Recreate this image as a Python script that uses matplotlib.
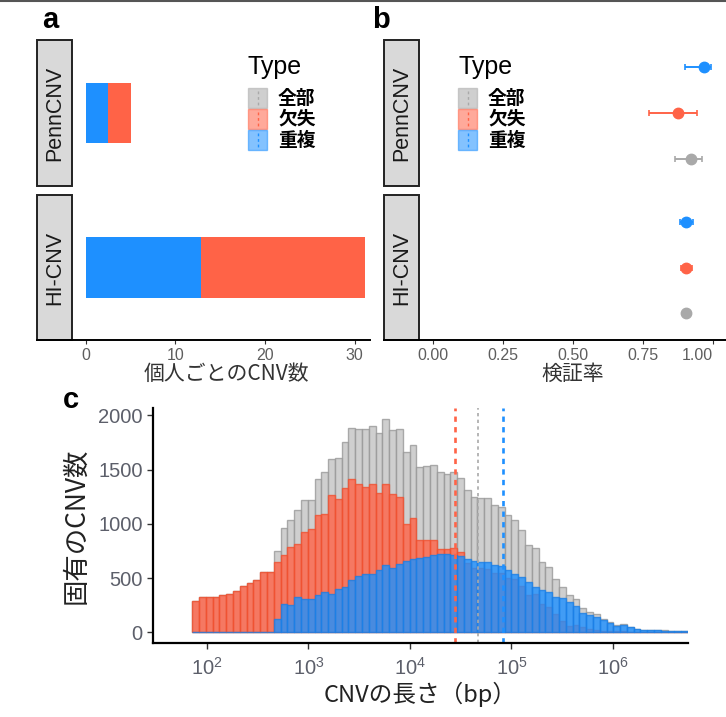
import numpy as np
import matplotlib
matplotlib.use("Agg")
import matplotlib.pyplot as plt
from matplotlib.patches import Rectangle
from matplotlib.lines import Line2D

plt.rcParams['font.family'] = ['Liberation Sans', 'Noto Sans CJK JP', 'DejaVu Sans']
plt.rcParams['mathtext.fontset'] = 'custom'
plt.rcParams['mathtext.rm'] = 'Liberation Sans'
plt.rcParams['mathtext.it'] = 'Liberation Sans:italic'
plt.rcParams['mathtext.bf'] = 'Liberation Sans:bold'

# ---- data ----
types = ["全部", "欠失", "重複"]
type_colors = ["#a9a9a9", "#ff6347", "#1e90ff"]

# panel a: CNVs per person
methods = ["PennCNV", "HI-CNV"]
dup_per_person = [2.42, 12.85]
del_per_person = [2.61, 18.35]

# panel b: validation rate (order 全部, 欠失, 重複)
rate_penn = [0.921, 0.874, 0.967]
low_penn = [0.865, 0.770, 0.900]
high_penn = [0.960, 0.940, 0.993]
rate_hi = [0.904, 0.904, 0.903]
low_hi = [0.899, 0.884, 0.880]
high_hi = [0.909, 0.925, 0.926]

# panel c: length histogram
len_range = (10 ** 1.855, 10 ** 6.74)
count_all = [290, 325, 322, 322, 348, 358, 385, 425, 453, 482, 556, 560,
             750, 960, 1035, 1124, 1217, 1217, 1410, 1478, 1600, 1606, 1754, 1883,
             1871, 1871, 1902, 1840, 1969, 1862, 1871, 1662, 1730, 1524, 1533, 1545,
             1478, 1462, 1478, 1420, 1309, 1247, 1240, 1238, 1177, 1155, 1078, 1032,
             940, 802, 777, 648, 600, 495, 418, 341, 310, 220, 190, 165,
             126, 95, 64, 74, 52, 35, 25, 22, 20, 18, 16, 15, 17]
count_del = [290, 325, 322, 322, 348, 358, 385, 425, 453, 482, 556, 560,
             645, 712, 786, 817, 925, 949, 1078, 1094, 1263, 1232, 1330, 1416,
             1370, 1339, 1370, 1287, 1370, 1278, 1247, 1002, 1054, 848, 848, 848,
             771, 771, 777, 740, 635, 590, 590, 585, 550, 545, 505, 490,
             430, 340, 355, 260, 230, 170, 105, 60, 70, 45, 30, 25,
             16, 10, 9, 9, 7, 5, 3, 2, 2, 2, 2, 2, 2]
count_dup = [0, 0, 0, 0, 0, 0, 0, 0, 0, 0, 0, 0,
             120, 264, 255, 326, 310, 304, 341, 372, 356, 403, 418, 479,
             519, 535, 541, 571, 624, 590, 630, 660, 680, 688, 695, 715,
             725, 718, 710, 700, 675, 655, 648, 648, 624, 609, 571, 541,
             510, 464, 418, 387, 372, 326, 316, 280, 240, 175, 160, 140,
             110, 85, 55, 65, 45, 30, 22, 20, 18, 15, 14, 14, 15]
median_len = [46700, 27500, 82000]  # 全部, 欠失, 重複

W, H = 726, 717
fig = plt.figure(figsize=(W / 100, H / 100), dpi=100)


def px_axes(l, t, r, b):
    return fig.add_axes([l / W, 1 - b / H, (r - l) / W, (b - t) / H])


def strip(l, t, r, b, label):
    fig.patches.append(Rectangle((l / W, 1 - b / H), (r - l) / W, (b - t) / H,
                                 transform=fig.transFigure, facecolor="#d9d9d9",
                                 edgecolor="#222222", lw=1.4))
    fig.text((l + r) / 2 / W, 1 - (t + b) / 2 / H, label, rotation=90,
             ha="center", va="center", fontsize=15.5, color="#1a1a1a")


def hline(x0, x1, y, **kw):
    fig.lines.append(Line2D([x0 / W, x1 / W], [1 - y / H, 1 - y / H],
                            transform=fig.transFigure, **kw))


def legend(x, y):
    fig.text(x / W, 1 - y / H, "Type", fontsize=18, ha="left", va="center")
    for i, (t, c) in enumerate(zip(types, type_colors)):
        top = y + 21 + i * 21
        fig.patches.append(Rectangle((x / W, 1 - (top + 20) / H), 19 / W, 20 / H,
                                     transform=fig.transFigure, facecolor=c,
                                     alpha=0.55, edgecolor=c, lw=1))
        fig.lines.append(Line2D([(x + 9.5) / W] * 2, [1 - (top + 3) / H, 1 - (top + 17) / H],
                                transform=fig.transFigure, color=c, lw=1,
                                ls=(0, (2, 2))))
        fig.text((x + 30) / W, 1 - (top + 10) / H, t, fontsize=13.5, fontweight="bold",
                 ha="left", va="center", family=["Noto Sans CJK JP"])


def style_axis(ax, bottom):
    for s in ax.spines.values():
        s.set_visible(False)
    ax.set_yticks([])
    if bottom:
        ax.tick_params(axis="x", length=3, width=0.8, color="#333333",
                       labelsize=11.5, labelcolor="#5e5e5e", pad=3)
    else:
        ax.set_xticks([])


facets = [(40, 186), (195, 340)]

# ---- panel a ----
for i, (t, b) in enumerate(facets):
    ax = px_axes(72, t, 370, b)
    ax.barh([0], [dup_per_person[i]], height=0.5, color=type_colors[2])
    ax.barh([0], [del_per_person[i]], left=[dup_per_person[i]], height=0.5,
            color=type_colors[1])
    ax.set_xlim(-1.56, 31.73)
    ax.set_ylim(-0.6, 0.6)
    style_axis(ax, i == 1)
    if i == 1:
        ax.set_xticks([0, 10, 20, 30])
    strip(37, t, 72, b, methods[i])
hline(37, 370, 340, color="black", lw=1.4)
fig.text(226 / W, 1 - 374 / H, "個人ごとのCNV数", fontsize=15, ha="center", va="center",
         color="#333333", family=["Noto Sans CJK JP"])
legend(248, 67)

# ---- panel b ----
rates = [(rate_penn, low_penn, high_penn), (rate_hi, low_hi, high_hi)]
for i, (t, b) in enumerate(facets):
    ax = px_axes(419, t, 726, b)
    r, lo, hi = rates[i]
    for k in range(3):
        ax.errorbar([r[k]], [k + 1], xerr=[[r[k] - lo[k]], [hi[k] - r[k]]], fmt="o",
                    color=type_colors[k], ms=7.5, elinewidth=1.4, capsize=2.5,
                    capthick=1.2)
    ax.set_xlim(-0.0488, 1.045)
    ax.set_ylim(0.4, 3.6)
    style_axis(ax, i == 1)
    if i == 1:
        ax.set_xticks([0, 0.25, 0.5, 0.75, 1.0])
        ax.set_xticklabels(["0.00", "0.25", "0.50", "0.75", "1.00"])
        ax.get_xticklabels()[-1].set_ha("right")
        ax.get_xticklabels()[-1].set_x(1.045)
    strip(384, t, 419, b, methods[i])
hline(384, 726, 340, color="black", lw=1.4)
fig.text(573 / W, 1 - 374 / H, "検証率", fontsize=15, ha="center", va="center",
         color="#333333", family=["Noto Sans CJK JP"])
legend(458, 67)

# ---- panel c ----
ax = px_axes(153, 408, 688, 643)
edges = np.logspace(np.log10(len_range[0]), np.log10(len_range[1]), len(count_all) + 1)
widths = np.diff(edges)
for counts, c, ec in [(count_all, "#c4c4c4", "#999999"),
                      (count_del, "#ff6347", "#f0502f"),
                      (count_dup, "#1e90ff", "#1a7fe6")]:
    ax.bar(edges[:-1], counts, width=widths, align="edge", color=c, alpha=0.8,
           edgecolor=ec, linewidth=1.0)
for m, c, lw in zip(median_len, type_colors, [1.2, 1.9, 1.9]):
    ax.axvline(m, color=c, ls=(0, (2, 2)), lw=lw)
ax.set_xscale("log")
ax.set_xlim(10 ** 1.468, 10 ** 6.74)
ax.set_ylim(-98, 2067)
ax.set_yticks([0, 500, 1000, 1500, 2000])
ax.set_xticks([1e2, 1e3, 1e4, 1e5, 1e6])
ax.minorticks_off()
for s in ["top", "right"]:
    ax.spines[s].set_visible(False)
for s in ["left", "bottom"]:
    ax.spines[s].set_linewidth(1.6)
ax.tick_params(length=4, width=1, color="#333333", labelsize=14.5, labelcolor="#5c5f6a")
ax.tick_params(axis="x", pad=6)
ax.set_xlabel("CNVの長さ（bp）", fontsize=17, color="#222222", family=["Noto Sans CJK JP"],
              labelpad=2)
ax.set_ylabel("固有のCNV数", fontsize=19, color="#222222", family=["Noto Sans CJK JP"],
              labelpad=6)

# panel letters and top rule
fig.text(42 / W, 1 - 20 / H, "a", fontsize=21, fontweight="bold", va="center")
fig.text(372 / W, 1 - 20 / H, "b", fontsize=21, fontweight="bold", va="center")
fig.text(63 / W, 1 - 400 / H, "c", fontsize=21, fontweight="bold", va="center")
hline(0, 726, 1, color="#555555", lw=1.5)

fig.savefig("out.png", dpi=100)
